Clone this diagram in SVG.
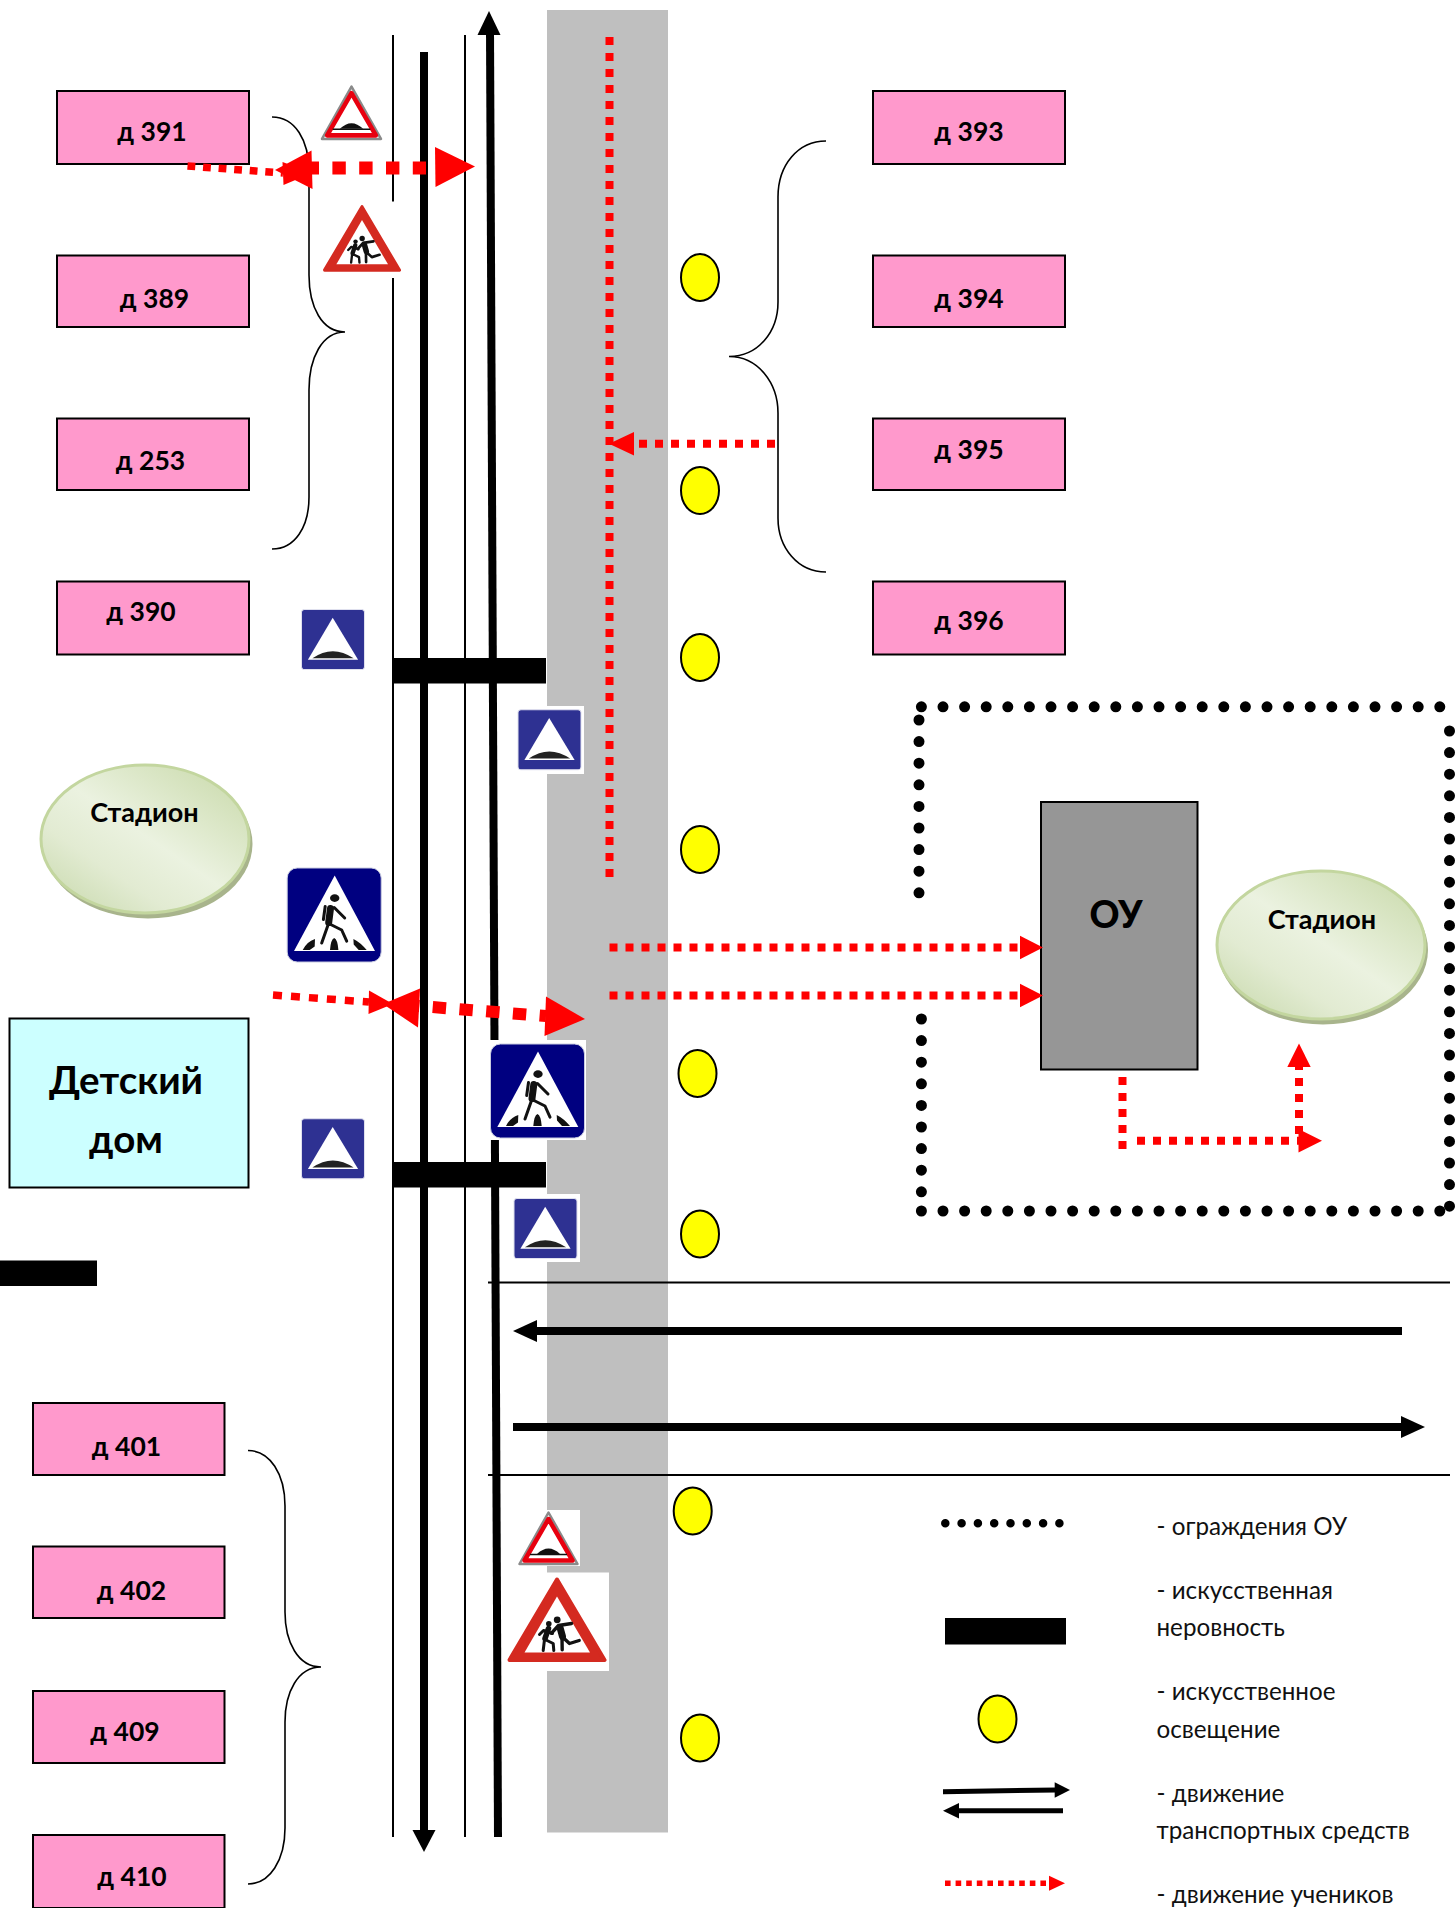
<svg xmlns="http://www.w3.org/2000/svg" xmlns:xlink="http://www.w3.org/1999/xlink" width="1455" height="1908" viewBox="0 0 1455 1908">
<style>
.t{font-family:"Lato","Noto Sans",sans-serif;fill:#000}
.lb{font-weight:700;font-size:26.500px;text-anchor:middle}
.st{font-weight:700;font-size:27px;text-anchor:middle}
.lg{font-size:24.200px;fill:#111}
.house{fill:#ff99cc;stroke:#000;stroke-width:2}
.lamp{fill:#ffff00;stroke:#000;stroke-width:2}
.thin{stroke:#000;stroke-width:2;fill:none}
.brace{stroke:#000;stroke-width:1.600;fill:none}
.fence{stroke:#000;stroke-width:11;stroke-linecap:round;stroke-dasharray:0 21.600;fill:none}
.rd{stroke:#f00;stroke-width:8;stroke-dasharray:8 8;fill:none}
.rd2{stroke:#f00;stroke-width:13;stroke-dasharray:13.400 13.400;fill:none}
.rh{fill:#f00}
.blk{fill:#000}
.fig{stroke:#111;fill:none;stroke-linecap:round;stroke-linejoin:round}
</style>
<defs>
<linearGradient id="st" x1="1" y1="0.05" x2="0.1" y2="1">
<stop offset="0" stop-color="#c8d9a9"/><stop offset="0.5" stop-color="#ebf2e0"/><stop offset="0.72" stop-color="#e2ebd2"/><stop offset="1" stop-color="#c9daae"/>
</linearGradient>
<symbol id="warnBump" viewBox="0 0 61 55" overflow="visible">
<path d="M30.500 1.500 L59.500 53 L1.500 53 Z" fill="#fff" stroke="#8a8a8a" stroke-width="2.500" stroke-linejoin="round"/>
<path d="M30.500 8 L54.500 49.500 L6.500 49.500 Z" fill="#fff" stroke="#e8000f" stroke-width="4.500" stroke-linejoin="round"/>
<path d="M12 43.500 H49" stroke="#111" stroke-width="1.600"/>
<path d="M19 43 Q30.500 32 42 43 Z" fill="#111"/>
</symbol>
<symbol id="warnKids" viewBox="0 0 99 86" overflow="visible">
<path d="M49.500 2 L97 82.500 L2 82.500 Z" fill="#d42a20" stroke="#d42a20" stroke-width="4" stroke-linejoin="round"/>
<path d="M49.500 19 L82.500 75 L17 75 Z" fill="#fff"/>
<circle cx="49.700" cy="42.300" r="3.400" fill="#111"/>
<circle cx="41.300" cy="46.300" r="2.800" fill="#111"/>
<path class="fig" stroke-width="7" d="M52.500 50 L55 59"/>
<path class="fig" stroke-width="3.400" d="M44 55.700 L51 48 L64 46 M54.500 60 L54.700 72.300 M55.500 60 L62 66 L71.700 63"/>
<path class="fig" stroke-width="5.500" d="M41 51 L37.500 61"/>
<path class="fig" stroke-width="3" d="M32 57 L36 53 L45 56 M37 62 L35.700 73 M37.500 62 L45.700 66 L46.300 73"/>
</symbol>
<symbol id="blueBump" viewBox="0 0 62 59" overflow="visible">
<rect x="0" y="0" width="62" height="59" rx="3" fill="#2e3192" stroke="#dfe0ee" stroke-width="1"/>
<path d="M30.700 8 L55.700 49.500 L6.300 49.500 Z" fill="#fff"/>
<path d="M10.700 48 Q30.700 34 51.300 48 Z" fill="#222"/>
</symbol>
<symbol id="bluePed" viewBox="0 0 95 95" overflow="visible">
<rect x="0.500" y="0.500" width="94" height="94" rx="10" fill="#000080" stroke="#c8cbe0" stroke-width="1"/>
<path d="M48 8 L88.300 83.500 L7.300 83.500 Z" fill="#fff"/>
<ellipse cx="48" cy="30.600" rx="4.700" ry="3.800" fill="#111"/>
<path class="fig" stroke-width="7" d="M43.800 41 L42 55"/>
<path class="fig" stroke-width="3" d="M38.500 39 L36.700 52 M47.500 40 L58 50.500 M41.500 57 L35 75.500 M42 56 L55 62.500 L60 73.700"/>
<path fill="#111" d="M16 82.600 Q20 74 28.300 71.400 L28 79 L23 82.600 Z M43.300 82.600 Q44 72 47.500 70.500 Q51 72 51.700 82.600 Z M66.700 71.400 Q74 75 80 82.600 L72 82.600 L67 77 Z"/>
</symbol>
</defs>
<rect width="1455" height="1908" fill="#fff"/>

<g id="road"><rect x="547" y="10" width="121" height="1822.500" fill="#bfbfbf"/></g>

<g id="lamps">
<ellipse class="lamp" cx="700" cy="277.500" rx="19" ry="23.500"/>
<ellipse class="lamp" cx="700" cy="490.500" rx="19" ry="23.500"/>
<ellipse class="lamp" cx="700" cy="657.500" rx="19" ry="23.500"/>
<ellipse class="lamp" cx="700" cy="849.500" rx="19" ry="23.500"/>
<ellipse class="lamp" cx="697.500" cy="1073.500" rx="19" ry="23.500"/>
<ellipse class="lamp" cx="700" cy="1234" rx="19" ry="23.500"/>
<ellipse class="lamp" cx="692.700" cy="1511" rx="19" ry="23.500"/>
<ellipse class="lamp" cx="700" cy="1738" rx="19" ry="23.500"/>
</g>

<g id="connectors">
<g id="street-lines">
<path class="thin" d="M393 35 V201.500 M393 278 V1837"/>
<path class="thin" d="M465 35 V1837"/>
<path class="thin" d="M488 1282.500 H1450 M488 1475 H1450"/>
</g>
<g id="traffic">
<path d="M424 52 V1832" stroke="#000" stroke-width="8"/>
<polygon class="blk" points="412.500,1830 435.500,1830 424,1852"/>
<path d="M490 30 L498 1837" stroke="#000" stroke-width="8"/>
<polygon class="blk" points="477.500,35 500.500,35 489,11"/>
<path d="M1402 1331 H530" stroke="#000" stroke-width="8"/>
<polygon class="blk" points="537,1320 537,1342 513,1331"/>
<path d="M513 1427 H1405" stroke="#000" stroke-width="8"/>
<polygon class="blk" points="1401,1416 1401,1438 1425,1427"/>
</g>
</g>

<g id="bumps">
<rect class="blk" x="392" y="658" width="154" height="25.500"/>
<rect class="blk" x="392" y="1162" width="154" height="25.500"/>
<rect class="blk" x="0" y="1260.500" width="97" height="25.500"/>
</g>

<g id="fence">
<path class="fence" d="M921.400 706.800 H1442"/>
<path class="fence" d="M919 720 V895"/>
<path class="fence" d="M921.400 1019 V1195"/>
<path class="fence" d="M921.400 1211 H1442"/>
<path class="fence" d="M1449.500 731 V1208"/>
</g>

<g id="braces">
<path class="brace" d="M272 117 C295 117 309 140 309 172 L309 275 C309 307 322 332 345 332 C322 332 309 358 309 390 L309 497 C309 527 295 549 272 549"/>
<path class="brace" d="M826 141 C798 141 778 165 778 197 L778 302 C778 332 758 356.500 729 356.500 C758 356.500 778 383 778 413 L778 518 C778 548 798 572 826 572"/>
<path class="brace" d="M248 1450.500 C270 1450.500 285 1474 285 1506 L285 1612 C285 1642 298 1667 321 1667 C298 1667 285 1692 285 1722 L285 1828 C285 1860 270 1884 248 1884"/>
</g>

<g id="d391"><rect class="house" x="57" y="91" width="192" height="73"/><text class="t lb" x="152" y="141">д 391</text></g>
<g id="d389"><rect class="house" x="57" y="255.500" width="192" height="71.500"/><text class="t lb" x="154.500" y="308">д 389</text></g>
<g id="d253"><rect class="house" x="57" y="418.500" width="192" height="71.500"/><text class="t lb" x="150.500" y="470">д 253</text></g>
<g id="d390"><rect class="house" x="57" y="581.500" width="192" height="73"/><text class="t lb" x="141" y="620.500">д 390</text></g>
<g id="d393"><rect class="house" x="873" y="91" width="192" height="73"/><text class="t lb" x="969" y="141">д 393</text></g>
<g id="d394"><rect class="house" x="873" y="255.500" width="192" height="71.500"/><text class="t lb" x="969" y="308">д 394</text></g>
<g id="d395"><rect class="house" x="873" y="418.500" width="192" height="71.500"/><text class="t lb" x="969" y="458.500">д 395</text></g>
<g id="d396"><rect class="house" x="873" y="581.500" width="192" height="73"/><text class="t lb" x="969" y="630">д 396</text></g>
<g id="d401"><rect class="house" x="33" y="1403" width="191.500" height="72"/><text class="t lb" x="126.500" y="1456">д 401</text></g>
<g id="d402"><rect class="house" x="33" y="1546.500" width="191.500" height="71.500"/><text class="t lb" x="131.500" y="1600">д 402</text></g>
<g id="d409"><rect class="house" x="33" y="1691" width="191.500" height="72"/><text class="t lb" x="125" y="1741">д 409</text></g>
<g id="d410"><rect class="house" x="33" y="1835" width="191.500" height="73"/><text class="t lb" x="132" y="1886">д 410</text></g>

<g id="orphanage"><rect x="9.500" y="1018.500" width="239" height="169" fill="#ccffff" stroke="#000" stroke-width="2"/>
<text class="t" font-weight="700" font-size="38.500" text-anchor="middle" x="126" y="1094">Детский</text>
<text class="t" font-weight="700" font-size="38.500" text-anchor="middle" x="126" y="1153">дом</text></g>

<g id="stadium-left"><ellipse cx="148" cy="844" rx="104.500" ry="74.500" fill="#a8b48c"/><ellipse cx="145" cy="839" rx="104" ry="74" fill="url(#st)" stroke="#c3d69f" stroke-width="3"/><text class="t st" x="144.500" y="822">Стадион</text></g>
<g id="stadium-right"><ellipse cx="1323" cy="950" rx="105" ry="74.500" fill="#a8b48c"/><ellipse cx="1321" cy="945" rx="104" ry="74" fill="url(#st)" stroke="#c3d69f" stroke-width="3"/><text class="t st" x="1322" y="929">Стадион</text></g>

<g id="school"><rect x="1041" y="802" width="156.500" height="267.500" fill="#969696" stroke="#000" stroke-width="2"/><text class="t" font-weight="900" font-size="37" text-anchor="middle" x="1116" y="927.500">ОУ</text></g>

<g id="signs">
<use id="sign-warn-bump-top" xlink:href="#warnBump" href="#warnBump" x="320.500" y="85" width="62" height="56"/>
<rect x="322" y="203" width="79" height="72" fill="#fff"/>
<use id="sign-kids-top" xlink:href="#warnKids" href="#warnKids" x="323" y="205" width="78" height="68"/>
<use id="sign-blue-1" xlink:href="#blueBump" href="#blueBump" x="301.500" y="609.500" width="63" height="60"/>
<rect x="518" y="706" width="66" height="68" fill="#fff"/>
<use id="sign-blue-2" xlink:href="#blueBump" href="#blueBump" x="518" y="709.500" width="63" height="60.500"/>
<use id="sign-ped-1" xlink:href="#bluePed" href="#bluePed" x="286.700" y="867" width="95" height="96"/>
<rect x="489" y="1040" width="97" height="100" fill="#fff"/>
<use id="sign-ped-2" xlink:href="#bluePed" href="#bluePed" x="490" y="1043" width="95" height="96"/>
<use id="sign-blue-3" xlink:href="#blueBump" href="#blueBump" x="301.500" y="1118.500" width="63" height="60.500"/>
<rect x="512" y="1194" width="68" height="68" fill="#fff"/>
<use id="sign-blue-4" xlink:href="#blueBump" href="#blueBump" x="514" y="1198.500" width="63" height="60"/>
<rect x="518" y="1510" width="62" height="56" fill="#fff"/>
<use id="sign-warn-bump-bottom" xlink:href="#warnBump" href="#warnBump" x="518" y="1511" width="61" height="55"/>
<rect x="502" y="1572.500" width="107" height="98.500" fill="#fff"/>
<use id="sign-kids-bottom" xlink:href="#warnKids" href="#warnKids" x="507.500" y="1577.500" width="99" height="86"/>
</g>

<g id="pupil-routes">
<path class="rd" d="M609.500 37 V878"/>
<path class="rd" d="M775 443.700 H634"/>
<polygon class="rh" points="634,432 634,455.400 609,443.700"/>
<path class="rd" d="M609.500 947.500 H1021"/>
<polygon class="rh" points="1020,935.800 1020,959.200 1043,947.500"/>
<path class="rd" d="M609.500 995.500 H1021"/>
<polygon class="rh" points="1020,983.800 1020,1007.200 1043,995.500"/>
<path class="rd" d="M1122.500 1077 V1149"/>
<path class="rd" d="M1137 1140.700 H1300"/>
<polygon class="rh" points="1298.500,1129 1298.500,1152.400 1322,1140.700"/>
<path class="rd" d="M1299 1134 V1066"/>
<polygon class="rh" points="1287.300,1067 1310.700,1067 1299,1043.500"/>
<path class="rd" style="stroke-width:7.500;stroke-dasharray:7.800 7.800" d="M187.500 166 L283 173"/>
<polygon class="rh" points="282.500,162 283.500,185 312,173"/>
<path class="rd2" d="M305.600 168 H426"/>
<polygon class="rh" points="275,170 311.500,150.500 312.500,189"/>
<polygon class="rh" points="435,147 435.500,187 475,166.500"/>
<path class="rd" style="stroke-width:7.500;stroke-dasharray:9 9" d="M273 995 L369 1002"/>
<polygon class="rh" points="369,990.500 368.500,1014 393,1004"/>
<path class="rd2" style="stroke-width:12" d="M406 1005 L546 1016"/>
<polygon class="rh" points="383,1004 420,988.500 418,1027.500"/>
<polygon class="rh" points="546,996.500 544.500,1036 585,1019"/>
</g>

<g id="legend">
<path stroke="#000" stroke-width="8.500" stroke-linecap="round" stroke-dasharray="0 16.300" fill="none" d="M945.300 1523.300 H1062"/>
<text class="t lg" x="1156.500" y="1534.500">- ограждения ОУ</text>
<rect class="blk" x="945" y="1618" width="121" height="26.500"/>
<text class="t lg" x="1156.500" y="1599">- искусственная</text>
<text class="t lg" x="1156.500" y="1636">неровность</text>
<ellipse class="lamp" cx="997.500" cy="1719" rx="19" ry="23.500"/>
<text class="t lg" x="1156.500" y="1700">- искусственное</text>
<text class="t lg" x="1156.500" y="1737.500">освещение</text>
<path d="M943 1791.700 L1056 1790" stroke="#000" stroke-width="5"/>
<polygon class="blk" points="1054.700,1782.300 1054.700,1797.700 1070,1790"/>
<path d="M1063 1810.700 H958" stroke="#000" stroke-width="5"/>
<polygon class="blk" points="959,1803 959,1818.400 943,1810.700"/>
<text class="t lg" x="1156.500" y="1802">- движение</text>
<text class="t lg" x="1156.500" y="1839">транспортных средств</text>
<path stroke="#f00" stroke-width="5.500" stroke-dasharray="5.600 5" fill="none" d="M945 1883.300 H1050"/>
<polygon class="rh" points="1049,1875.800 1049,1890.800 1065,1883.300"/>
<text class="t lg" x="1156.500" y="1903">- движение учеников</text>
</g>
</svg>
